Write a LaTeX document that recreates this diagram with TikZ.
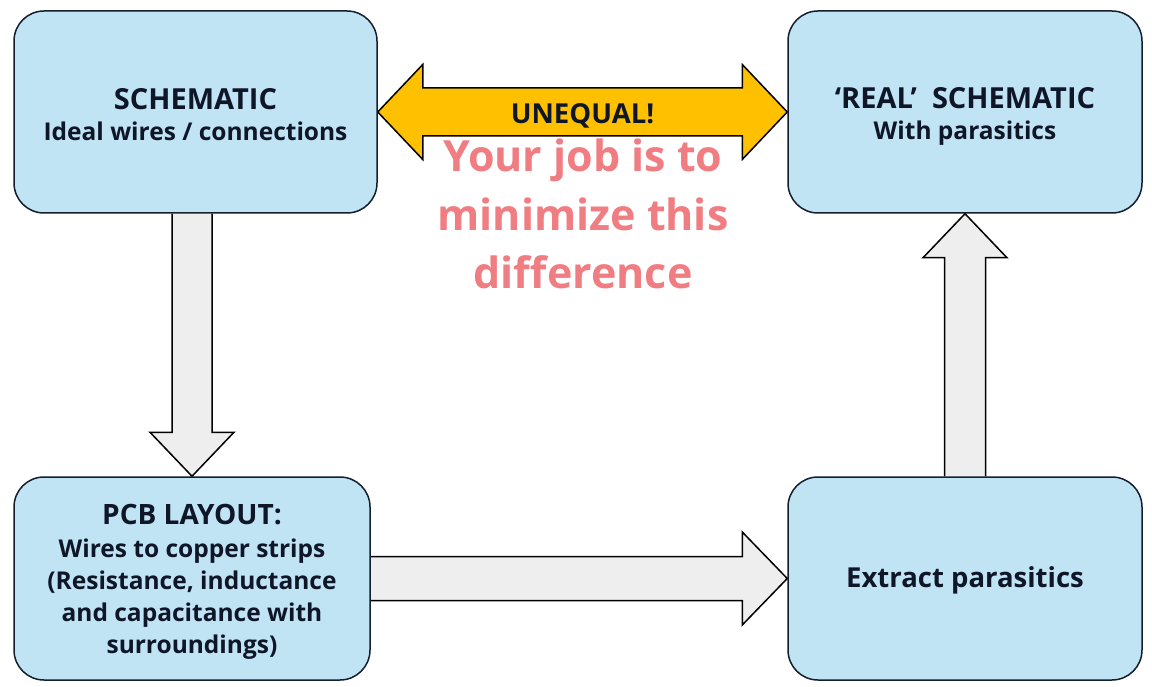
\documentclass[tikz,border=0pt]{standalone}
\usepackage{fontspec}
\setmainfont{Open Sans}
\usetikzlibrary{calc,backgrounds}
\definecolor{boxblue}{RGB}{193,228,245}
\definecolor{boxline}{RGB}{20,30,45}
\definecolor{txt}{RGB}{14,22,40}
\definecolor{gold}{RGB}{255,192,0}
\definecolor{salmon}{RGB}{240,125,130}
\definecolor{grayfill}{RGB}{238,238,238}
\newcommand{\ttl}[2]{{\fontsize{#1}{32}\selectfont #2}}
\newcommand{\lift}[1]{\rule{0pt}{#1}}
\begin{document}
\begin{tikzpicture}[x=1pt,y=-1pt,
  stage/.style={draw=boxline, line width=1.5pt, fill=boxblue, rounded corners=30pt,
    inner sep=0pt, align=center, text=txt,
    font=\fontsize{24.5}{32}\selectfont\bfseries},
  blockarrow/.style={draw=black, line width=1.5pt, fill=grayfill, line join=miter},
  goldarrow/.style={draw=black, line width=1.5pt, fill=gold, line join=miter},
  lbl/.style={inner sep=0pt, align=center}]
\useasboundingbox (0,0) rectangle (1152,687);
\node[stage, minimum width=363pt, minimum height=202pt] (tl) at (195.5,112)
  {\lift{27pt}\ttl{29}{SCHEMATIC}\\[-1pt]Ideal wires / connections};
\node[stage, minimum width=354pt, minimum height=202pt] (tr) at (965,112)
  {\lift{29pt}\ttl{29}{`REAL'\ \ SCHEMATIC}\\[-1pt]With parasitics};
\node[stage, minimum width=356pt, minimum height=203pt] (bl) at (192,578.5)
  {\lift{26.5pt}\ttl{28}{PCB LAYOUT:}\\[1pt]Wires to copper strips\\(Resistance, inductance\\and capacitance with\\surroundings)};
\node[stage, minimum width=354pt, minimum height=203pt, font=\fontsize{27.5}{32}\selectfont\bfseries] (br) at (965,578.5)
  {\lift{24pt}Extract parasitics};
\begin{scope}[on background layer]
\fill[white] (0,0) rectangle (1152,687);
% down arrow
\coordinate (dtop) at (tl.south -| bl.north);
\draw[blockarrow] ($(dtop)+(-20,0)$) -- ($(bl.north)+(-20,-44)$) -- ($(bl.north)+(-42,-44)$)
  -- (bl.north) -- ($(bl.north)+(42,-44)$) -- ($(bl.north)+(20,-44)$) -- ($(dtop)+(20,0)$);
% up arrow
\coordinate (ubot) at (br.north -| tr.south);
\draw[blockarrow] ($(ubot)+(-20.5,0)$) -- ($(tr.south)+(-20.5,44)$) -- ($(tr.south)+(-42,44)$)
  -- (tr.south) -- ($(tr.south)+(42,44)$) -- ($(tr.south)+(20.5,44)$) -- ($(ubot)+(20.5,0)$);
% right arrow
\coordinate (rstart) at (bl.east);
\coordinate (rtip) at (br.west |- bl.east);
\draw[blockarrow] ($(rstart)+(0,-22)$) -- ($(rtip)+(-45,-22)$) -- ($(rtip)+(-45,-46.5)$)
  -- (rtip) -- ($(rtip)+(-45,46.5)$) -- ($(rtip)+(-45,22)$) -- ($(rstart)+(0,22)$);
% double arrow
\coordinate (ltip) at (tl.east);
\coordinate (rtip2) at (tr.west);
\draw[goldarrow] (ltip) -- ($(ltip)+(45,-47.5)$) -- ($(ltip)+(45,-24)$) -- ($(rtip2)+(-45,-24)$)
  -- ($(rtip2)+(-45,-47.5)$) -- (rtip2) -- ($(rtip2)+(-45,47.5)$) -- ($(rtip2)+(-45,24)$)
  -- ($(ltip)+(45,24)$) -- ($(ltip)+(45,47.5)$) -- cycle;
\end{scope}
\node[lbl, text=txt, font=\fontsize{27.5}{30}\selectfont\bfseries] (uneq) at ($(tl.east)!0.5!(tr.west)+(0,4)$) {UNEQUAL!};
\node[lbl, text=salmon, font=\fontsize{43}{58.5}\selectfont\bfseries] (msg) at (583,214)
  {Your job is to\\minimize this\\difference};
\end{tikzpicture}
\end{document}
